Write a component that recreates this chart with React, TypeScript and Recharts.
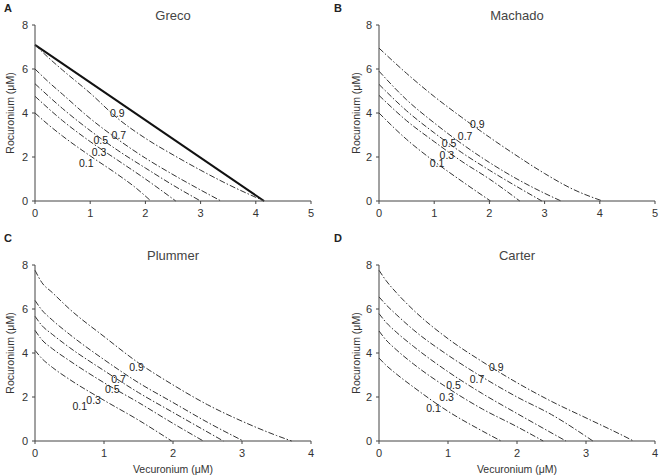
import { LineChart, Line, XAxis, YAxis, ReferenceDot } from "recharts";

const FONT = "'Liberation Sans', Arial, sans-serif";
const INK = "#333";

const LEVELS = ["0.1", "0.3", "0.5", "0.7", "0.9"];
const X_TICKS_5 = [0, 1, 2, 3, 4, 5];
const X_TICKS_4 = [0, 1, 2, 3, 4];
const Y_TICKS = [0, 2, 4, 6, 8];

// Greco (A)
const grecoAdditive = [[0, 7.1], [4.15, 0]];
const greco01 = [[0, 4.0], [0.25, 3.45], [0.5, 2.95], [1, 2.05], [1.5, 1.2], [1.8, 0.65], [2.1, 0]];
const greco03 = [[0, 4.76], [0.5, 3.65], [1, 2.7], [1.5, 1.85], [2, 1.0], [2.55, 0]];
const greco05 = [[0, 5.33], [0.5, 4.2], [1, 3.2], [1.5, 2.3], [2, 1.5], [2.5, 0.72], [3.0, 0]];
const greco07 = [[0, 6.0], [0.25, 5.4], [0.5, 4.85], [1, 3.75], [1.5, 2.8], [2, 1.95], [2.5, 1.2], [3, 0.5], [3.37, 0]];
const greco09 = [[0, 7.1], [0.25, 6.5], [0.5, 5.95], [1, 4.9], [1.5, 3.75], [2, 2.85], [2.5, 2.1], [3, 1.4], [3.5, 0.75], [4.15, 0]];
const grecoLabels = [[0.93, 1.72], [1.16, 2.22], [1.19, 2.74], [1.52, 2.97], [1.49, 3.97]];

// Machado (B)
const machado01 = [[0, 4.0], [0.5, 2.8], [1, 1.8], [1.5, 0.9], [2.02, 0]];
const machado03 = [[0, 4.8], [0.5, 3.65], [1, 2.7], [1.5, 1.8], [2, 1.0], [2.55, 0]];
const machado05 = [[0, 5.3], [0.5, 4.1], [1, 3.1], [1.5, 2.2], [2, 1.4], [2.5, 0.65], [2.95, 0]];
const machado07 = [[0, 5.9], [0.5, 4.6], [1, 3.55], [1.5, 2.6], [2, 1.75], [2.5, 1.0], [3, 0.35], [3.3, 0]];
const machado09 = [[0, 6.95], [0.5, 5.8], [1, 4.75], [1.5, 3.8], [2, 2.9], [2.5, 2.05], [3, 1.25], [3.5, 0.55], [4.05, 0]];
const machadoLabels = [[1.05, 1.72], [1.23, 2.1], [1.27, 2.62], [1.56, 2.95], [1.78, 3.47]];

// Plummer (C)
const plummer01 = [[0, 4.12], [0.1, 3.75], [0.25, 3.35], [0.5, 2.8], [1, 1.85], [1.5, 0.95], [1.98, 0]];
const plummer03 = [[0, 5.03], [0.1, 4.6], [0.25, 4.2], [0.5, 3.65], [1, 2.65], [1.5, 1.75], [2, 0.8], [2.44, 0]];
const plummer05 = [[0, 5.67], [0.1, 5.25], [0.25, 4.85], [0.5, 4.25], [1, 3.2], [1.5, 2.2], [2, 1.3], [2.73, 0]];
const plummer07 = [[0, 6.39], [0.1, 5.95], [0.25, 5.5], [0.5, 4.85], [1, 3.7], [1.5, 2.65], [2, 1.75], [2.5, 0.85], [3.02, 0]];
const plummer09 = [[0, 7.76], [0.1, 7.2], [0.25, 6.75], [0.5, 6.0], [1, 4.75], [1.5, 3.55], [2, 2.55], [2.5, 1.65], [3, 0.9], [3.5, 0.25], [3.72, 0]];
const plummerLabels = [[0.65, 1.58], [0.85, 1.85], [1.12, 2.33], [1.21, 2.79], [1.47, 3.33]];

// Carter (D)
const carter01 = [[0, 3.77], [0.1, 3.45], [0.25, 3.05], [0.5, 2.45], [1, 1.35], [1.5, 0.45], [1.77, 0]];
const carter03 = [[0, 5.0], [0.1, 4.6], [0.25, 4.15], [0.5, 3.5], [1, 2.4], [1.5, 1.45], [2, 0.65], [2.38, 0]];
const carter05 = [[0, 5.79], [0.1, 5.4], [0.25, 4.95], [0.5, 4.3], [1, 3.15], [1.5, 2.15], [2, 1.25], [2.71, 0]];
const carter07 = [[0, 6.55], [0.1, 6.2], [0.25, 5.75], [0.5, 5.05], [1, 3.9], [1.5, 2.9], [2, 2.0], [2.5, 1.2], [3.1, 0]];
const carter09 = [[0, 7.76], [0.1, 7.3], [0.25, 6.75], [0.5, 5.95], [1, 4.65], [1.5, 3.6], [2, 2.65], [2.5, 1.8], [3, 1.05], [3.5, 0.3], [3.69, 0]];
const carterLabels = [[0.79, 1.48], [0.98, 2.0], [1.08, 2.52], [1.42, 2.8], [1.7, 3.36]];

const toData = (pts: number[][]) => pts.map(([x, y]) => ({ x, y }));

type PanelProps = {
  letter: string;
  title: string;
  left: number;
  top: number;
  height: number;
  yAxisWidth: number;
  rightMargin: number;
  topMargin: number;
  xAxisHeight: number;
  xTicks: number[];
  curves: number[][][];
  labels: number[][];
  additive?: number[][];
  xLabel?: boolean;
  yLabelOffset: number;
};

function Panel(p: PanelProps) {
  const tick = { fill: INK, fontSize: 11, fontFamily: FONT };
  const plotLeft = p.yAxisWidth;
  const plotRight = 330 - p.rightMargin;
  return (
    <div style={{ position: "absolute", left: p.left, top: p.top, width: 330, height: p.height }}>
      <div style={{ position: "absolute", left: 4, top: 3, fontFamily: FONT, fontWeight: "bold", fontSize: 11, lineHeight: "11px", color: "#222" }}>
        {p.letter}
      </div>
      <div style={{ position: "absolute", left: plotLeft, width: plotRight - plotLeft, top: p.topMargin - 16, textAlign: "center", fontFamily: FONT, fontWeight: 400, fontSize: 13, lineHeight: "14px", color: "#444" }}>
        {p.title}
      </div>
      <LineChart width={330} height={p.height} margin={{ top: p.topMargin, right: p.rightMargin, bottom: 0, left: 0 }}>
        <XAxis
          type="number"
          dataKey="x"
          domain={[0, p.xTicks[p.xTicks.length - 1]]}
          ticks={p.xTicks}
          height={p.xAxisHeight}
          tick={tick}
          tickSize={3}
          tickMargin={5}
          stroke="#444"
          allowDuplicatedCategory={false}
          label={p.xLabel ? { value: "Vecuronium (μM)", position: "insideBottom", offset: 3, fill: INK, fontSize: 10.5, fontFamily: FONT } : undefined}
        />
        <YAxis
          type="number"
          domain={[0, 8]}
          ticks={Y_TICKS}
          width={p.yAxisWidth}
          tick={tick}
          tickSize={3}
          tickMargin={4}
          stroke="#444"
          label={{ value: "Rocuronium (μM)", angle: -90, position: "insideLeft", offset: p.yLabelOffset, fill: INK, fontSize: 10.5, fontFamily: FONT, style: { textAnchor: "middle" } }}
        />
        {p.additive && (
          <Line data={toData(p.additive)} dataKey="y" type="linear" stroke="#111" strokeWidth={2} dot={false} isAnimationActive={false} />
        )}
        {p.curves.map((c, i) => (
          <Line key={LEVELS[i]} data={toData(c)} dataKey="y" type="monotone" stroke={INK} strokeWidth={1} strokeDasharray="6 2 1.5 2" dot={false} isAnimationActive={false} />
        ))}
        {p.labels.map(([x, y], i) => (
          <ReferenceDot key={"l" + i} x={x} y={y} r={0} fill="none" stroke="none"
            label={{ value: LEVELS[i], position: "center", fill: "#222", fontSize: 10.5, fontFamily: FONT }} />
        ))}
      </LineChart>
    </div>
  );
}

export default function App() {
  return (
    <div style={{ position: "absolute", left: 0, top: 0, width: 660, height: 476, background: "#fff", overflow: "hidden" }}>
      <Panel letter="A" title="Greco" left={0} top={0} height={230} yAxisWidth={35} rightMargin={19} topMargin={25} xAxisHeight={29}
        xTicks={X_TICKS_5} curves={[greco01, greco03, greco05, greco07, greco09]} labels={grecoLabels} additive={grecoAdditive} yLabelOffset={10} />
      <Panel letter="B" title="Machado" left={330} top={0} height={230} yAxisWidth={49} rightMargin={5} topMargin={25} xAxisHeight={29}
        xTicks={X_TICKS_5} curves={[machado01, machado03, machado05, machado07, machado09]} labels={machadoLabels} yLabelOffset={26} />
      <Panel letter="C" title="Plummer" left={0} top={230} height={246} yAxisWidth={35} rightMargin={19} topMargin={35} xAxisHeight={35}
        xTicks={X_TICKS_4} curves={[plummer01, plummer03, plummer05, plummer07, plummer09]} labels={plummerLabels} xLabel yLabelOffset={10} />
      <Panel letter="D" title="Carter" left={330} top={230} height={246} yAxisWidth={49} rightMargin={5} topMargin={35} xAxisHeight={35}
        xTicks={X_TICKS_4} curves={[carter01, carter03, carter05, carter07, carter09]} labels={carterLabels} xLabel yLabelOffset={26} />
    </div>
  );
}
